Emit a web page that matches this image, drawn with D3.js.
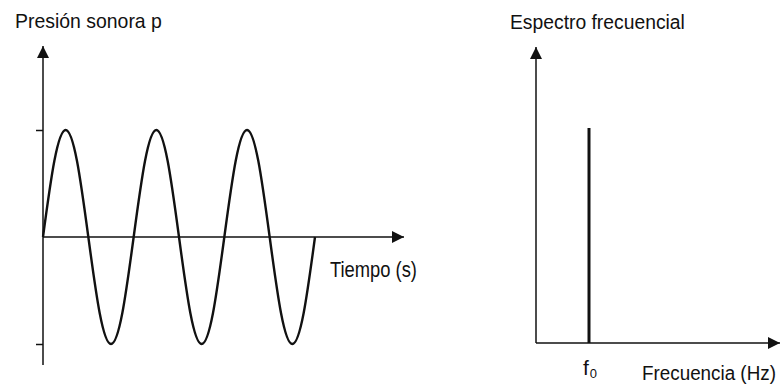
<!DOCTYPE html>
<html>
<head>
<meta charset="utf-8">
<script src="https://cdn.jsdelivr.net/npm/d3@7"></script>
<style>
  body { margin: 0; background: #fff; }
  text { font-family: "Liberation Sans Narrow", "Arial Narrow", "Liberation Sans", sans-serif; fill: #111; }
</style>
</head>
<body>
<div class="graph"></div>
<script>
// time in periods, pressure normalised to amplitude (read at 1/8 period steps)
var timeValues = [0, 0.125, 0.25, 0.375, 0.5, 0.625, 0.75, 0.875,
                  1, 1.125, 1.25, 1.375, 1.5, 1.625, 1.75, 1.875,
                  2, 2.125, 2.25, 2.375, 2.5, 2.625, 2.75, 2.875, 3];
var pressureValues = [0, 0.71, 1, 0.71, 0, -0.71, -1, -0.71,
                      0, 0.71, 1, 0.71, 0, -0.71, -1, -0.71,
                      0, 0.71, 1, 0.71, 0, -0.71, -1, -0.71, 0];
var pressureTicks = [-1, 1];

// spectrum: one line at f0
var freqValues = [1];
var ampValues = [1];
var freqLabels = ['f', '0'];

var titles = ['Presión sonora p', 'Espectro frecuencial'];
var axisLabels = ['Tiempo (s)', 'Frecuencia (Hz)'];

var width = 781, height = 390;

var svg = d3.select('.graph')
            .append('svg')
            .attr('width', width)
            .attr('height', height);

var defs = svg.append('defs');
defs.append('marker')
    .attr('id', 'arrow')
    .attr('viewBox', '0 0 10 10')
    .attr('refX', 10)
    .attr('refY', 5)
    .attr('markerUnits', 'userSpaceOnUse')
    .attr('markerWidth', 14)
    .attr('markerHeight', 12)
    .attr('orient', 'auto')
    .append('path')
    .attr('d', 'M0,0L10,5L0,10Z')
    .attr('fill', '#111');

// condensed label: real text squeezed horizontally to the width seen in the picture
function label(g, x, y, size, len, str) {
  var t = g.append('text')
           .style('font-size', size + 'px')
           .text(str);
  var natural = t.node().getComputedTextLength();
  t.attr('transform', 'translate(' + x + ',' + y + ') scale(' + (len / natural) + ',1)');
  return t;
}

// ---- left panel: sound pressure over time
var xL = d3.scaleLinear().domain([0, 3]).range([43, 315]),
    yL = d3.scaleLinear().domain([-1, 1]).range([344, 130]);

var left = svg.append('g').attr('class', 'left');

left.append('line')
    .attr('x1', xL(0)).attr('x2', xL(0))
    .attr('y1', 365).attr('y2', 46)
    .attr('stroke', '#111').attr('stroke-width', 1.5)
    .attr('marker-end', 'url(#arrow)');

left.append('g')
    .attr('transform', 'translate(' + xL(0) + ',0)')
    .call(d3.axisLeft(yL).tickValues(pressureTicks).tickSize(7).tickFormat(''))
    .call(function(g) { g.select('.domain').remove(); })
    .selectAll('line')
    .attr('stroke', '#111').attr('stroke-width', 1.5);

left.append('line')
    .attr('x1', xL(0)).attr('x2', 404)
    .attr('y1', yL(0)).attr('y2', yL(0))
    .attr('stroke', '#111').attr('stroke-width', 1.5)
    .attr('marker-end', 'url(#arrow)');

var wave = d3.line()
             .x(function(d, i) { return xL(timeValues[i]); })
             .y(function(d) { return yL(d); })
             .curve(d3.curveNatural);

left.append('path')
    .datum(pressureValues)
    .attr('d', wave)
    .attr('fill', 'none')
    .attr('stroke', '#111')
    .attr('stroke-width', 2.4);

label(left, 15, 28, 21, 147, titles[0]);
label(left, 330, 277, 22, 87, axisLabels[0]);

// ---- right panel: frequency spectrum
var xR = d3.scaleLinear().domain([0, 1]).range([536, 589]),
    yR = d3.scaleLinear().domain([0, 1]).range([343, 128]);

var right = svg.append('g').attr('class', 'right');

right.append('line')
    .attr('x1', xR(0)).attr('x2', xR(0))
    .attr('y1', yR(0)).attr('y2', 47)
    .attr('stroke', '#111').attr('stroke-width', 1.5)
    .attr('marker-end', 'url(#arrow)');

right.append('line')
    .attr('x1', xR(0)).attr('x2', 780)
    .attr('y1', yR(0)).attr('y2', yR(0))
    .attr('stroke', '#111').attr('stroke-width', 1.5)
    .attr('marker-end', 'url(#arrow)');

right.selectAll('.bar')
     .data(freqValues)
     .enter()
     .append('line')
     .attr('class', 'bar')
     .attr('x1', function(d) { return xR(d); })
     .attr('x2', function(d) { return xR(d); })
     .attr('y1', yR(0))
     .attr('y2', function(d, i) { return yR(ampValues[i]); })
     .attr('stroke', '#111')
     .attr('stroke-width', 3);

var f0 = right.append('text')
              .attr('x', xR(freqValues[0]) - 6)
              .attr('y', 375)
              .style('font-size', '21px');
f0.append('tspan').text(freqLabels[0]);
f0.append('tspan').attr('dy', 3).attr('dx', 1).style('font-size', '13px').text(freqLabels[1]);

label(right, 642, 380, 21, 134, axisLabels[1]);
label(right, 510, 29, 21, 175, titles[1]);
</script>
</body>
</html>
